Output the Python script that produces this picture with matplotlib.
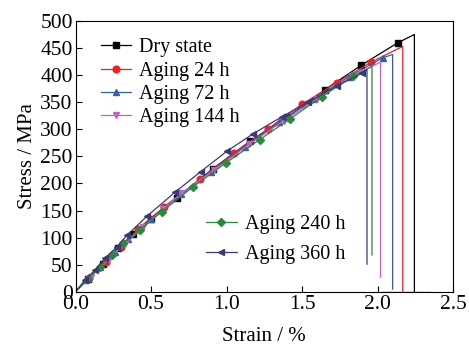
import numpy as np
import matplotlib
matplotlib.use('Agg')
import matplotlib.pyplot as plt

plt.rcParams['font.family'] = ['Liberation Serif', 'DejaVu Serif']
plt.rcParams['mathtext.fontset'] = 'stix'

# strain (%) / stress (MPa)
dry_x = [0, 0.08, 0.18, 0.28, 0.38, 0.5, 0.67, 0.909, 1.156, 1.40, 1.652, 1.891, 2.136, 2.244]
dry_y = [0, 24, 52, 80, 106, 135, 173, 227, 278, 322, 373, 418, 460, 475]
dry_drop = 0
dry_tail_x = [2.03, 2.35]
dry_tail_y = [0, 0]

a24_x = [0, 0.09, 0.2, 0.3, 0.415, 0.587, 0.825, 1.05, 1.275, 1.498, 1.73, 1.957, 2.167]
a24_y = [0, 26, 55, 82, 116, 157, 208, 256, 301, 346, 386, 424, 453]
a24_drop = 0

a72_x = [0, 0.07, 0.16, 0.26, 0.35, 0.5, 0.7, 0.9, 1.12, 1.35, 1.58, 1.81, 2.034, 2.10]
a72_y = [0, 21, 46, 74, 97, 134, 180, 222, 268, 313, 356, 397, 432, 438]
a72_drop = 5

a144_x = [0, 0.1, 0.22, 0.33, 0.45, 0.58, 0.70, 0.92, 1.15, 1.38, 1.6, 1.83, 2.02]
a144_y = [0, 28, 60, 88, 120, 152, 182, 225, 272, 316, 356, 398, 424]
a144_drop = 27

a240_x = [0, 0.08, 0.162, 0.24, 0.317, 0.427, 0.571, 0.78, 0.997, 1.22, 1.42, 1.63, 1.84, 1.963]
a240_y = [0, 23, 46, 68, 90, 114, 148, 194, 238, 281, 319, 360, 398, 416]
a240_drop = 68

a360_x = [0, 0.063, 0.13, 0.195, 0.273, 0.343, 0.475, 0.66, 0.83, 1.005, 1.178, 1.366, 1.54, 1.73, 1.90, 1.93]
a360_y = [0, 22, 40, 62, 83, 105, 140, 184, 222, 260, 292, 323, 350, 380, 404, 410]
a360_drop = 51

series = [
    ('Dry state', dry_x, dry_y, dry_drop, 'black', 's'),
    ('Aging 24 h', a24_x, a24_y, a24_drop, '#ee2024', 'o'),
    ('Aging 72 h', a72_x, a72_y, a72_drop, '#2f5fb3', '^'),
    ('Aging 144 h', a144_x, a144_y, a144_drop, '#c062c8', 'v'),
    ('Aging 240 h', a240_x, a240_y, a240_drop, '#2a8a3c', 'D'),
    ('Aging 360 h', a360_x, a360_y, a360_drop, '#3b3a78', '<'),
]

fig = plt.figure(figsize=(4.69, 3.49), dpi=100)
ax = fig.add_axes([0.161, 0.164, 0.805, 0.776])

handles = []
for name, x, y, drop, c, m in series:
    # curve, then the vertical drop at failure
    xs = list(x) + [x[-1]]
    ys = list(y) + [drop]
    ms = 4.8 if m != 'D' else 4.2
    h, = ax.plot(xs, ys, color=c, lw=0.9, marker=m, markersize=ms,
                 markevery=list(range(1, len(x) - 1)), label=name)
    handles.append(h)
ax.plot(dry_tail_x, dry_tail_y, color='black', lw=0.9)

ax.set_xlim(0, 2.5)
ax.set_ylim(0, 500)
ax.set_xticks(np.arange(0, 2.51, 0.5))
ax.set_yticks(np.arange(0, 501, 50))
ax.tick_params(direction='in', length=4, labelsize=15.5, pad=2, top=False, right=False)
ax.set_xlabel('Strain / %', fontsize=15, labelpad=10)
ax.set_ylabel('Stress / MPa', fontsize=15, labelpad=2)

leg1 = ax.legend(handles=handles[:4], loc='upper left', bbox_to_anchor=(0.215, 0.89),
                 bbox_transform=fig.transFigure, frameon=False, fontsize=14.5,
                 handlelength=1.5, handletextpad=0.4, labelspacing=0.2, borderpad=0,
                 borderaxespad=0)
ax.add_artist(leg1)
ax.legend(handles=handles[4:], loc='upper left', bbox_to_anchor=(0.44, 0.383),
          bbox_transform=fig.transFigure, frameon=False, fontsize=14.5,
          handlelength=1.5, handletextpad=0.4, labelspacing=0.5, borderpad=0,
          borderaxespad=0)

fig.savefig('out.png', dpi=100)
